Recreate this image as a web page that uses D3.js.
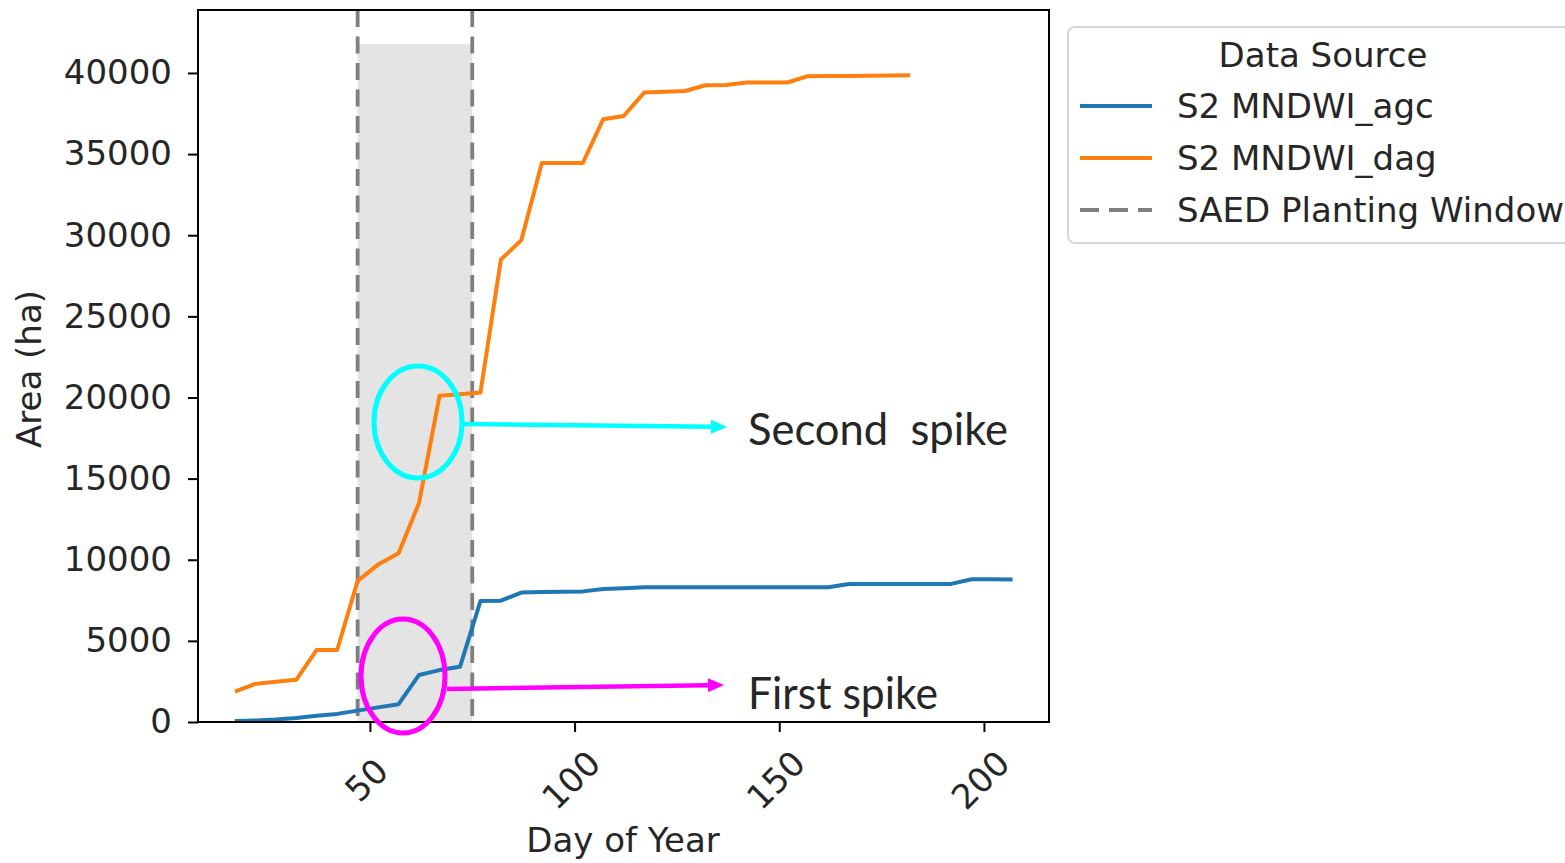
<!DOCTYPE html>
<html>
<head>
<meta charset="utf-8">
<script src="https://cdn.jsdelivr.net/npm/d3@7"></script>
<style>
  html, body { margin: 0; padding: 0; background: #fff; }
  svg { display: block; }
  text { font-family: "DejaVu Sans", sans-serif; fill: #262626; }
</style>
</head>
<body>
<svg id="chart" width="1565" height="863"></svg>
<script>
// ---------- data ----------
const agcDays = [17,22,27,32,37,42,47,52,57,62,67,72,77,82,87,92,97,102,107,112,117,122,127,132,137,142,147,152,157,162,167,172,177,182,187,192,197,202,207];
const agcArea = [60,100,160,250,380,500,700,900,1100,2900,3200,3400,7450,7480,7980,8010,8030,8050,8190,8250,8300,8300,8300,8300,8300,8300,8300,8300,8300,8300,8510,8510,8510,8510,8510,8510,8800,8800,8780];
const dagDays = [17,22,27,32,37,42,47,52,57,62,67,72,77,82,87,92,97,102,107,112,117,122,127,132,137,142,147,152,157,162,167,172,177,182];
const dagArea = [1870,2350,2480,2600,4440,4440,8700,9700,10400,13500,20100,20200,20300,28500,29700,34450,34450,34450,37150,37350,38790,38840,38890,39240,39260,39410,39410,39410,39800,39810,39820,39830,39850,39860];
const windowDays = [47, 75];
const windowTop = 41790;
const xTicks = [50, 100, 150, 200];
const yTicks = [0, 5000, 10000, 15000, 20000, 25000, 30000, 35000, 40000];
const seriesNames = ["S2 MNDWI_agc", "S2 MNDWI_dag", "SAED Planting Window"];
const legendTitle = "Data Source";
const xLabel = "Day of Year";
const yLabel = "Area (ha)";
const annotations = ["Second  spike", "First spike"];

// ---------- layout ----------
const L = 198, R = 1049, T = 10, B = 722;
const svg = d3.select("#chart");
const x = d3.scaleLinear().domain([8.0, 215.9]).range([L, R]);
const y = d3.scaleLinear().domain([0, 43880]).range([B, T]);

const FS = 34;

// shaded planting window
svg.append("rect")
  .attr("x", x(windowDays[0])).attr("width", x(windowDays[1]) - x(windowDays[0]))
  .attr("y", y(windowTop)).attr("height", y(0) - y(windowTop))
  .attr("fill", "#e4e4e4");

// dashed window lines
svg.selectAll(".vline").data(windowDays).enter().append("line")
  .attr("x1", d => x(d)).attr("x2", d => x(d))
  .attr("y1", T).attr("y2", B)
  .attr("stroke", "#7f7f7f").attr("stroke-width", 3.8)
  .attr("stroke-dasharray", "17,9.5");

// lines
const line = d3.line().x(d => x(d[0])).y(d => y(d[1]));
svg.append("path")
  .datum(agcDays.map((d, i) => [d, agcArea[i]]))
  .attr("d", line).attr("fill", "none")
  .attr("stroke", "#1f77b4").attr("stroke-width", 4).attr("stroke-linejoin", "round");
svg.append("path")
  .datum(dagDays.map((d, i) => [d, dagArea[i]]))
  .attr("d", line).attr("fill", "none")
  .attr("stroke", "#ff7f0e").attr("stroke-width", 4).attr("stroke-linejoin", "round");

// frame
svg.append("rect").attr("x", L).attr("y", T).attr("width", R - L).attr("height", B - T)
  .attr("fill", "none").attr("stroke", "#000").attr("stroke-width", 2);

// y axis
const yAxis = svg.append("g").attr("transform", `translate(${L},0)`)
  .call(d3.axisLeft(y).tickValues(yTicks).tickSize(10).tickPadding(16).tickFormat(d3.format("d")));
yAxis.select(".domain").remove();
yAxis.selectAll(".tick line").attr("stroke", "#000").attr("stroke-width", 2);
yAxis.selectAll(".tick text").style("font-size", FS + "px").attr("fill", "#262626")
  .style("font-family", "DejaVu Sans");

// x axis
const xAxis = svg.append("g").attr("transform", `translate(0,${B})`)
  .call(d3.axisBottom(x).tickValues(xTicks).tickSize(10).tickFormat(d3.format("d")));
xAxis.select(".domain").remove();
xAxis.selectAll(".tick line").attr("stroke", "#000").attr("stroke-width", 2);
xAxis.selectAll(".tick text")
  .style("font-size", FS + "px").attr("fill", "#262626").style("font-family", "DejaVu Sans")
  .attr("y", 0).attr("dy", null)
  .attr("text-anchor", "middle").attr("dominant-baseline", "central")
  .attr("transform", "translate(-4,58) rotate(-45)");

// axis labels
svg.append("text").attr("x", 623).attr("y", 840)
  .attr("text-anchor", "middle").attr("dominant-baseline", "central")
  .style("font-size", FS + "px").text(xLabel);
svg.append("text").attr("transform", "translate(29,369) rotate(-90)")
  .attr("text-anchor", "middle").attr("dominant-baseline", "central")
  .style("font-size", FS + "px").text(yLabel);

// legend
const lg = svg.append("g");
lg.append("rect").attr("x", 1068).attr("y", 27).attr("width", 560).attr("height", 216)
  .attr("rx", 7).attr("fill", "#fff").attr("stroke", "#d6d6d6").attr("stroke-width", 2);
lg.append("text").attr("x", 1323).attr("y", 55).attr("text-anchor", "middle")
  .attr("dominant-baseline", "central").style("font-size", FS + "px").text(legendTitle);
const legendStyles = [
  { color: "#1f77b4", dash: null },
  { color: "#ff7f0e", dash: null },
  { color: "#7f7f7f", dash: "19,10" }
];
seriesNames.forEach((name, i) => {
  const yy = 106 + i * 52;
  const ln = lg.append("line").attr("x1", 1080).attr("x2", 1152).attr("y1", yy).attr("y2", yy)
    .attr("stroke", legendStyles[i].color).attr("stroke-width", 4);
  if (legendStyles[i].dash) ln.attr("stroke-dasharray", legendStyles[i].dash).attr("stroke-width", 3.8);
  lg.append("text").attr("x", 1177).attr("y", yy).attr("dominant-baseline", "central")
    .style("font-size", FS + "px").text(name);
});

// annotations
const ann = svg.append("g");
function arrow(x1, y1, x2, y2, color) {
  const ang = Math.atan2(y2 - y1, x2 - x1);
  const hl = 16, hw = 7;
  const bx = x2 - hl * Math.cos(ang), by = y2 - hl * Math.sin(ang);
  ann.append("line").attr("x1", x1).attr("y1", y1).attr("x2", bx).attr("y2", by)
    .attr("stroke", color).attr("stroke-width", 4.5);
  const px = -Math.sin(ang) * hw, py = Math.cos(ang) * hw;
  ann.append("path")
    .attr("d", `M${x2},${y2}L${bx + px},${by + py}L${bx - px},${by - py}Z`)
    .attr("fill", color);
}
ann.append("ellipse").attr("cx", 418).attr("cy", 422).attr("rx", 44).attr("ry", 56)
  .attr("fill", "none").attr("stroke", "#00ffff").attr("stroke-width", 5);
arrow(464, 424, 727, 427, "#00ffff");
ann.append("ellipse").attr("cx", 403).attr("cy", 676).attr("rx", 42).attr("ry", 57)
  .attr("fill", "none").attr("stroke", "#ff00ff").attr("stroke-width", 5);
arrow(447, 689, 724, 685, "#ff00ff");

ann.append("text").attr("x", 748).attr("y", 445)
  .style("font-family", "Lato, 'Open Sans', sans-serif").style("font-size", "44px").attr("fill", "#000")
  .attr("textLength", 260).attr("lengthAdjust", "spacingAndGlyphs")
  .style("white-space", "pre").attr("xml:space", "preserve")
  .text(annotations[0]);
ann.append("text").attr("x", 748).attr("y", 709)
  .style("font-family", "Lato, 'Open Sans', sans-serif").style("font-size", "44px").attr("fill", "#000")
  .attr("textLength", 190).attr("lengthAdjust", "spacingAndGlyphs")
  .text(annotations[1]);
</script>
</body>
</html>
